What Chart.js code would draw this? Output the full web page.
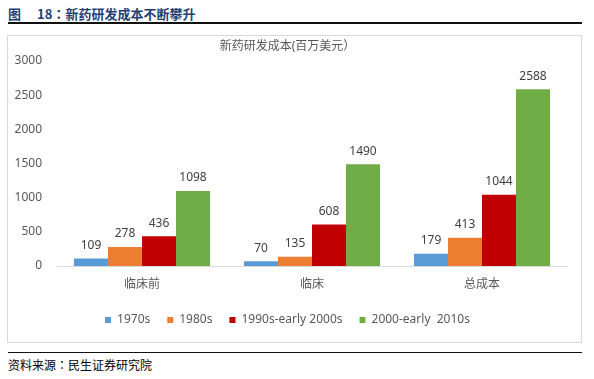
<!DOCTYPE html>
<html>
<head>
<meta charset="utf-8">
<script src="https://cdn.jsdelivr.net/npm/chart.js@4/dist/chart.umd.min.js"></script>
<style>
  html, body { margin: 0; padding: 0; background: #fff; }
  body { width: 594px; height: 379px; position: relative; overflow: hidden;
         font-family: "Noto Sans", "Noto Sans CJK SC", sans-serif; }
  .fig-title { position: absolute; left: 8px; top: 5px; font-size: 13px; font-weight: 700;
               color: #1F3F75; line-height: 18px; white-space: nowrap;
               font-family: "Noto Sans CJK SC", sans-serif; }
  .fig-title .tag { margin-right: 16px; }
  .colon { font-family: "Noto Sans CJK TC", sans-serif; }
  .rule-top { position: absolute; left: 8px; top: 22px; width: 574px; height: 1.5px; background: #111; }
  .chart-box { position: absolute; left: 7px; top: 35px; width: 575px; height: 308px;
               border: 1px solid #d9d9d9; box-sizing: border-box; }
  .rule-bottom { position: absolute; left: 8px; top: 352px; width: 574px; height: 1px; background: #111; }
  .source { position: absolute; left: 8px; top: 357px; font-size: 12px; color: #000; line-height: 16px;
            font-family: "Noto Sans CJK SC", sans-serif; }
</style>
</head>
<body>
<div class="fig-title"><span class="tag">图</span>18<span class="colon">：</span>新药研发成本不断攀升</div>
<div class="rule-top"></div>
<div class="chart-box"><canvas id="costChart" width="573" height="306"></canvas></div>
<div class="rule-bottom"></div>
<div class="source">资料来源<span class="colon">：</span>民生证券研究院</div>

<script>
// 数据
const categories = ['临床前', '临床', '总成本'];
const seriesNames = ['1970s', '1980s', '1990s-early 2000s', '2000-early  2010s'];
const values1970s = [109, 70, 179];
const values1980s = [278, 135, 413];
const values1990s = [436, 608, 1044];
const values2000s = [1098, 1490, 2588];
const yTicks = [0, 500, 1000, 1500, 2000, 2500, 3000];

const colors = ['#5B9BD5', '#ED7D31', '#C00000', '#70AD47'];
const fontFamily = '"Noto Sans", "Noto Sans CJK SC", sans-serif';

// 柱顶数值标签
const valueLabels = {
    id: 'valueLabels',
    afterDatasetsDraw(chart) {
        const ctx = chart.ctx;
        ctx.save();
        ctx.font = '12px ' + fontFamily;
        ctx.fillStyle = '#404040';
        ctx.textAlign = 'center';
        ctx.textBaseline = 'middle';
        chart.data.datasets.forEach((ds, i) => {
            const meta = chart.getDatasetMeta(i);
            meta.data.forEach((bar, j) => {
                ctx.fillText(String(ds.data[j]), bar.x, bar.y - 13);
            });
        });
        ctx.restore();
    }
};

const allValues = [values1970s, values1980s, values1990s, values2000s];

new Chart(document.getElementById('costChart').getContext('2d'), {
    type: 'bar',
    data: {
        labels: categories,
        datasets: seriesNames.map((name, i) => ({
            label: name,
            data: allValues[i],
            backgroundColor: colors[i],
            borderWidth: 0,
            categoryPercentage: 0.8,
            barPercentage: 1.0
        }))
    },
    options: {
        responsive: false,
        animation: false,
        layout: { padding: { left: 0, right: 14, top: 0, bottom: 6 } },
        plugins: {
            title: {
                display: true,
                text: '新药研发成本(百万美元）',
                color: '#595959',
                font: { family: fontFamily, size: 12, weight: 'normal' },
                padding: { top: 3, bottom: 7.6 }
            },
            legend: {
                position: 'bottom',
                labels: {
                    boxWidth: 6,
                    boxHeight: 6,
                    padding: 17,
                    color: '#595959',
                    font: { family: fontFamily, size: 12 }
                }
            },
            tooltip: { enabled: false }
        },
        scales: {
            x: {
                grid: { display: false, drawTicks: false },
                border: { display: true, color: '#d9d9d9' },
                ticks: { color: '#595959', padding: 11, font: { family: fontFamily, size: 12 } },
                afterFit: (scale) => { scale.height = 31; }
            },
            y: {
                min: 0,
                max: 3000,
                grid: { display: false, drawTicks: false },
                border: { display: false },
                afterBuildTicks: (scale) => { scale.ticks = yTicks.map(v => ({ value: v })); },
                afterFit: (scale) => { scale.width = 49; },
                ticks: {
                    color: '#595959',
                    padding: 15,
                    font: { family: fontFamily, size: 12 },
                    callback: (value) => String(value)
                }
            }
        }
    },
    plugins: [valueLabels]
});
</script>
</body>
</html>
